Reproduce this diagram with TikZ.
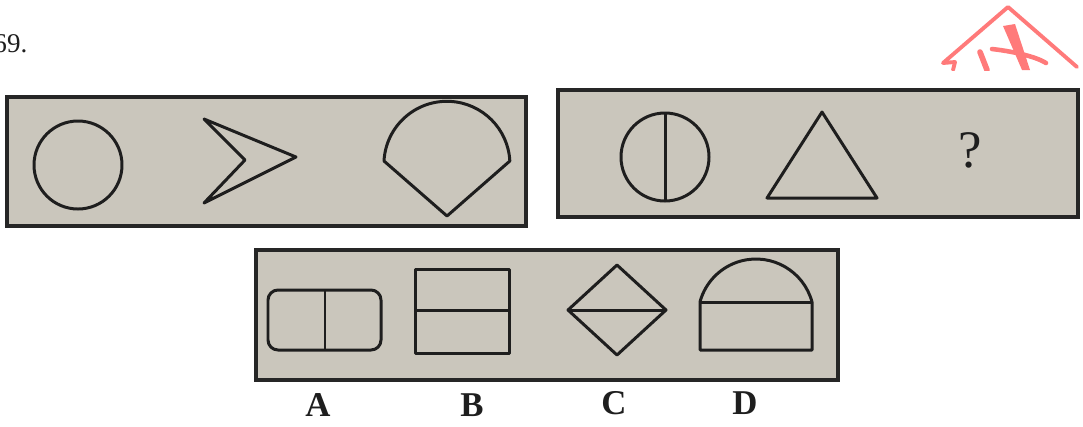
\documentclass[tikz,border=0pt]{standalone}
\usepackage{fontspec}
\setmainfont{Liberation Serif}
\usetikzlibrary{positioning}
\definecolor{card}{HTML}{CAC6BC}
\definecolor{rim}{HTML}{262626}
\definecolor{ink}{HTML}{1E1E1E}
\definecolor{stampred}{HTML}{FF7A7A}
\tikzset{
  every node/.style={text=ink,inner sep=0pt},
  panel/.style={fill=card,draw=rim,line width=1pt},
  figline/.style={draw=ink,line width=.85pt,line join=round},
  optlabel/.style={font=\fontsize{9.9}{12}\selectfont\bfseries},
  stamp/.style={draw=stampred,line width=1.1pt,line cap=round,line join=round}
}

\begin{document}
\begin{tikzpicture}[x=1cm,y=1cm]
  \useasboundingbox (0,0) rectangle (10.83,4.26);
  \node[anchor=base east,font=\fontsize{7.7}{9}\selectfont] (qnum) at (.28,3.74) {69.};

  % Stamp in the top right corner, cut off at its lower edge.
  \begin{scope}
    \clip (9.30,3.56) rectangle (10.83,4.26);
    \draw[stamp] (9.53,3.56) -- (9.55,3.64) -- (9.43,3.63) -- (10.08,4.19) -- (10.77,3.59);
    \fill[stampred] (10.03,4.00) -- (10.15,4.02) -- (10.30,3.56) -- (10.22,3.56) -- cycle;
    \draw[stamp,line width=1.3pt] (9.92,3.77) .. controls (10.10,3.75) and (10.35,3.70) .. (10.46,3.63);
    \draw[stamp,line width=1.6pt] (9.80,3.74) -- (9.87,3.56);
  \end{scope}

  % Upper left panel: circle, chevron, rounded cone.
  \draw[panel] (.07,2.00) rectangle (5.26,3.29);
  \draw[figline] (.78,2.61) circle (.44);
  \draw[figline] (2.04,3.07) -- (2.96,2.69) -- (2.04,2.23) -- (2.45,2.66) -- cycle;
  \draw[figline] (4.47,2.10) -- (3.84,2.65) arc[start angle=177,end angle=3,radius=.63] -- cycle;

  % Upper right panel: split circle, triangle, question mark.
  \draw[panel] (5.58,2.09) rectangle (10.78,3.36);
  \draw[figline] (6.65,2.69) circle (.44);
  \draw[figline] (6.65,3.13) -- (6.65,2.25);
  \draw[figline] (7.67,2.28) -- (8.77,2.28) -- (8.22,3.14) -- cycle;
  \node[font=\fontsize{15}{18}\selectfont] (qmark) at (9.70,2.76) {?};

  % Lower panel: the four options.
  \draw[panel] (2.56,.46) rectangle (8.38,1.76);
  \draw[figline,rounded corners=.1cm] (2.68,.76) rectangle (3.81,1.36);
  \draw[figline] (3.25,1.36) -- (3.25,.76);
  \draw[figline] (4.15,.73) rectangle (5.09,1.57);
  \draw[figline] (4.15,1.16) -- (5.09,1.16);
  \draw[figline] (5.68,1.16) -- (6.17,1.61) -- (6.66,1.16) -- (6.17,.71) -- cycle;
  \draw[figline] (5.68,1.16) -- (6.66,1.16);
  \draw[figline] (7.00,1.24) -- (7.00,.76) -- (8.12,.76) -- (8.12,1.24)
    arc[start angle=15,end angle=165,radius=.58] -- cycle;
  \draw[figline] (7.00,1.24) -- (8.12,1.24);
  \node[optlabel] (optA) at (3.18,.21) {A};
  \node[optlabel] (optB) at (4.72,.21) {B};
  \node[optlabel] (optC) at (6.14,.23) {C};
  \node[optlabel] (optD) at (7.45,.23) {D};
\end{tikzpicture}
\end{document}
